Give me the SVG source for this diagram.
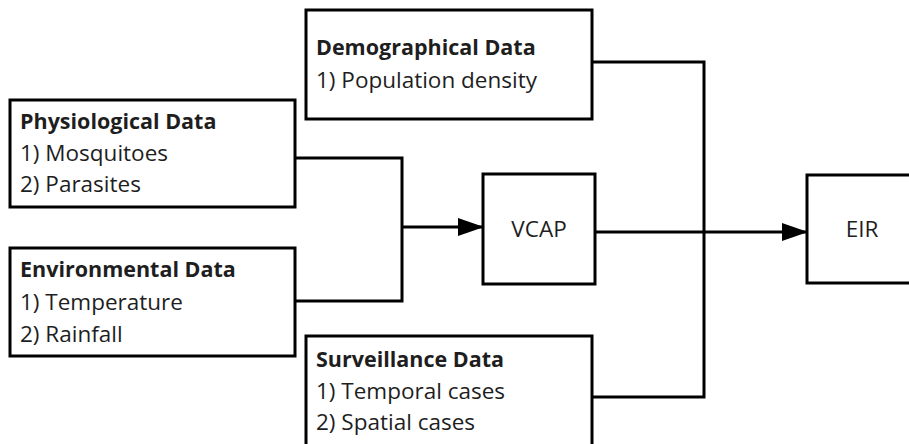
<svg xmlns="http://www.w3.org/2000/svg" width="909" height="444" viewBox="0 0 909 444">
  <style>
    .box { fill: #fff; stroke: #000; stroke-width: 3; }
    .wire { fill: none; stroke: #000; stroke-width: 3; }
    text { font-family: "Open Sans", "Liberation Sans", sans-serif; font-size: 22.5px; fill: #1e1e1e; }
    .title { font-weight: bold; font-size: 21.5px; }
    .mid { text-anchor: middle; }
  </style>
  <defs>
    <marker id="arrow" markerUnits="userSpaceOnUse" markerWidth="26" markerHeight="18" refX="25" refY="9" orient="auto">
      <path d="M0,0 L26,9 L0,18 Z" fill="#000"/>
    </marker>
  </defs>

  <rect width="909" height="444" fill="#fff"/>

  <g id="connectors">
    <!-- data inputs merging into VCAP -->
    <polyline class="wire" points="295,158 402,158 402,301 295,301"/>
    <line class="wire" x1="402" y1="227" x2="483" y2="227" marker-end="url(#arrow)"/>
    <!-- demographic / surveillance bus -->
    <polyline class="wire" points="592,62 704,62 704,397 592,397"/>
    <!-- VCAP to EIR -->
    <line class="wire" x1="595" y1="232" x2="807" y2="232" marker-end="url(#arrow)"/>
  </g>

  <g id="physiological">
    <rect class="box" x="10" y="100" width="285" height="107"/>
    <text class="title" x="20" y="129">Physiological Data</text>
    <text x="20" y="161">1) Mosquitoes</text>
    <text x="20" y="192">2) Parasites</text>
  </g>

  <g id="environmental">
    <rect class="box" x="10" y="248" width="285" height="108"/>
    <text class="title" x="20" y="277">Environmental Data</text>
    <text x="20" y="310">1) Temperature</text>
    <text x="20" y="342">2) Rainfall</text>
  </g>

  <g id="demographical">
    <rect class="box" x="306" y="10" width="286" height="109"/>
    <text class="title" x="316" y="55">Demographical Data</text>
    <text x="316" y="88">1) Population density</text>
  </g>

  <g id="surveillance">
    <rect class="box" x="306" y="336" width="286" height="112"/>
    <text class="title" x="316" y="367">Surveillance Data</text>
    <text x="316" y="399">1) Temporal cases</text>
    <text x="316" y="430">2) Spatial cases</text>
  </g>

  <g id="vcap">
    <rect class="box" x="483" y="174" width="112" height="110"/>
    <text class="mid" x="539" y="237">VCAP</text>
  </g>

  <g id="eir">
    <rect class="box" x="807" y="175" width="110" height="108"/>
    <text class="mid" x="862" y="237">EIR</text>
  </g>
</svg>
